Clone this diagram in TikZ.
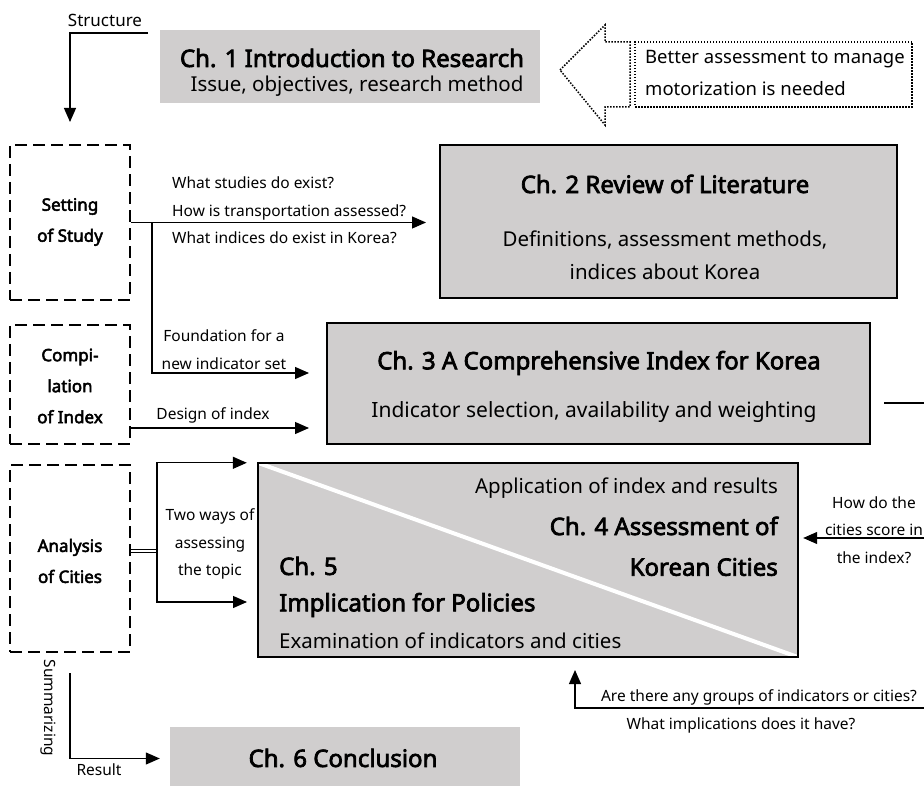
\documentclass[tikz,border=0pt]{standalone}
\usepackage{fontspec}
\setmainfont{Noto Sans}[AutoFakeBold=3]
\usetikzlibrary{arrows.meta}
\definecolor{boxgray}{RGB}{208,206,206}
\tikzset{
  chapbox/.style={fill=boxgray, inner sep=0pt},
  chapframe/.style={chapbox, draw=black, line width=2pt},
  partbox/.style={draw=black, line width=2pt, dash pattern=on 12pt off 6pt, inner sep=0pt},
  chaptitle/.style={font=\fontsize{24}{24}\selectfont\bfseries},
  chapsub/.style={font=\fontsize{20.5}{20.5}\selectfont},
  parttext/.style={font=\fontsize{17}{31}\selectfont\bfseries, align=center},
  smalltext/.style={font=\fontsize{15.5}{27.5}\selectfont},
  conn/.style={line width=1.2pt, -{Triangle[length=14pt,width=12pt]}},
  plain/.style={line width=1.2pt},
}
\begin{document}
\begin{tikzpicture}[x=1pt, y=-1pt, every node/.style={inner sep=0pt}]
\clip (0,0) rectangle (924,786);

% chapter boxes
\node[chapbox, minimum width=380pt, minimum height=73pt] (ch1) at (350,66.5) {};
\node[chapframe, minimum width=457pt, minimum height=153pt] (ch2) at (668.5,221.5) {};
\node[chapframe, minimum width=543pt, minimum height=121pt] (ch3) at (598.5,383.5) {};
\node[chapbox, minimum width=540pt, minimum height=194pt] (ch45) at (528,560) {};
\node[chapbox, minimum width=350pt, minimum height=63pt] (ch6) at (345,758.5) {};

\draw[white, line width=4pt] (ch45.north west) -- (ch45.south east);
\draw[line width=2pt] (ch45.north west) rectangle (ch45.south east);

\node[chaptitle] (ch1t) at (352,58) {Ch. 1 Introduction to Research};
\node[chapsub] (ch1s) at (357,86) {Issue, objectives, research method};
\node[chaptitle] (ch2t) at (665,184) {Ch. 2 Review of Literature};
\node[chapsub] (ch2s) at (665,240) {Definitions, assessment methods,};
\node[chapsub] (ch2u) at (665,272) {indices about Korea};
\node[chaptitle] (ch3t) at (599,363) {Ch. 3 A Comprehensive Index for Korea};
\node[chapsub, font=\fontsize{21}{21}\selectfont] (ch3s) at (594,412) {Indicator selection, availability and weighting};
\node[chapsub, anchor=east] (ch4s) at (778,488) {Application of index and results};
\node[chaptitle, anchor=east] (ch4t) at (778,526) {Ch. 4 Assessment of};
\node[chaptitle, anchor=east] (ch4u) at (778,567) {Korean Cities};
\node[chaptitle, anchor=west] (ch5t) at (279,566) {Ch. 5};
\node[chaptitle, anchor=west] (ch5u) at (279,605) {Implication for Policies};
\node[chapsub, anchor=west] (ch5s) at (279,641) {Examination of indicators and cities};
\node[chaptitle] (ch6t) at (343,758) {Ch. 6 Conclusion};

% part boxes
\node[partbox, minimum width=120pt, minimum height=155pt] (setting) at (70,222.5) {};
\node[partbox, minimum width=120pt, minimum height=119pt] (compil) at (70,384.5) {};
\node[partbox, minimum width=120pt, minimum height=187pt] (analysis) at (70,558.5) {};
\node[parttext] (settingt) at (70,222) {Setting\\of Study};
\node[parttext] (compilt) at (70,386) {Compi-\\lation\\of Index};
\node[parttext] (analysist) at (70,561) {Analysis\\of Cities};

% motivation
\draw[line width=1.5pt, dash pattern=on 1.5pt off 1.5pt]
  (560,70) -- (605,25) -- (605,42) -- (630,42) -- (630,107) -- (605,107) -- (605,125) -- cycle;
\node[draw=black, line width=1.5pt, dash pattern=on 1.5pt off 1.5pt,
  minimum width=277pt, minimum height=65pt] (need) at (773.5,74.5) {};
\node[font=\fontsize{18.5}{32}\selectfont, align=left, anchor=west] (needt) at (645,73)
  {Better assessment to manage\\motorization is needed};

% connectors
\coordinate (structin) at (148,33);
\draw[conn, shorten >=22pt] (structin) -| (setting.north);
\node[smalltext, font=\fontsize{17}{17}\selectfont] (structt) at (105,20) {Structure};

\draw[conn, shorten >=13pt] (setting.east) -- (setting.east -| ch2.west);
\node[smalltext, align=left, anchor=west] (studyq) at (172,210.5)
  {What studies do exist?\\How is transportation assessed?\\What indices do exist in Korea?};

\coordinate (split) at (152,222.5);
\coordinate (ch3in) at ([yshift=10.5pt]ch3.west);
\coordinate (ch3low) at ([yshift=-44.5pt]ch3.west);
\draw[conn, shorten >=17pt] (split) |- (ch3in);
\node[smalltext, align=center] (foundt) at (224,349.5) {Foundation for a\\new indicator set};
\draw[conn, shorten >=17pt] (compil.east |- ch3low) -- (ch3low);
\node[smalltext] (designt) at (213,415) {Design of index};
\draw[plain] ([shift={(13,19.5)}]ch3.east) -- ++(60,0);

\coordinate (asplit) at (157,551);
\coordinate (ch45low) at (258,602);
\draw[line width=1pt, double, double distance=1.5pt] (analysis.east |- asplit) -- (asplit);
\draw[conn, shorten >=11pt] (asplit) |- (ch45.north west);
\draw[conn, shorten >=11pt] (asplit) |- (ch45low);
\node[smalltext, align=center] (twowayst) at (210,544) {Two ways of\\assessing\\the topic};

\coordinate (scorein) at (935,538);
\draw[conn, shorten >=5pt] (scorein) -- (scorein -| ch45.east);
\node[smalltext, align=center] (scoret) at (874,530) {How do the\\cities score in\\the index?};

\coordinate (groupin) at (935,708);
\coordinate (ch45bot) at (575,657);
\draw[conn, shorten >=13pt] (groupin) -| (ch45bot);
\node[smalltext] (groupt) at (759,697) {Are there any groups of indicators or cities?};
\node[smalltext] (implt) at (741,725) {What implications does it have?};

\coordinate (sumstart) at ([yshift=-20pt]analysis.south);
\draw[conn, shorten >=10pt] (sumstart) |- (ch6.west);
\node[smalltext, rotate=-90] (sumt) at (48,708) {Summarizing};
\node[smalltext] (resultt) at (99,770) {Result};
\end{tikzpicture}
\end{document}
